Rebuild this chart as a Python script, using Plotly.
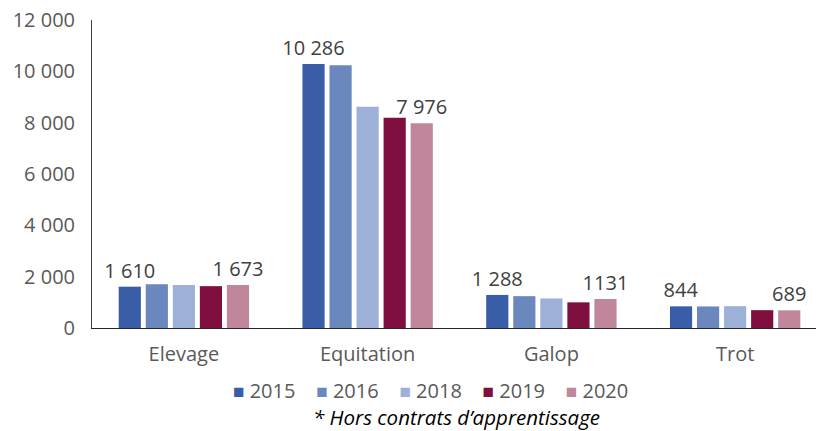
import plotly.graph_objects as go

# Effectifs par filière et par année (hors contrats d'apprentissage)
categories = ["Elevage", "Equitation", "Galop", "Trot"]
years = ["2015", "2016", "2018", "2019", "2020"]
values = {
    "2015": [1610, 10286, 1288, 844],
    "2016": [1700, 10240, 1240, 840],
    "2018": [1680, 8620, 1150, 850],
    "2019": [1630, 8190, 1000, 695],
    "2020": [1673, 7976, 1131, 689],
}
labels = {
    "2015": ["1 610", "10 286", "1 288", "844"],
    "2020": ["1 673", "7 976", "1131", "689"],
}
colors = {
    "2015": "#3a5da8",
    "2016": "#6a87be",
    "2018": "#9db0d7",
    "2019": "#7f0f3e",
    "2020": "#c0869c",
}

FONT = "Open Sans"
GREY = "#595959"

fig = go.Figure()
for y in years:
    fig.add_trace(go.Bar(
        name=y,
        x=categories,
        y=values[y],
        marker=dict(color=colors[y], line=dict(width=0)),
        text=labels.get(y),
        textposition="outside" if y in labels else "none",
        constraintext="none",
        textfont=dict(family=FONT, size=20, color="#404040"),
        cliponaxis=False,
        showlegend=False,
    ))

# compact legend line: coloured square + year for each series
legend_text = ("\u00a0" * 4).join(
    f'<span style="color:{colors[y]};font-size:19px">\u25a0</span>\u00a0{y}'
    for y in years
)

fig.update_layout(
    width=816,
    height=431,
    margin=dict(l=92, r=0, t=20, b=103),
    paper_bgcolor="white",
    plot_bgcolor="white",
    barmode="group",
    bargap=0.264,
    bargroupgap=0.18,
    separators=". ",
    font=dict(family=FONT, size=20, color=GREY),
    xaxis=dict(
        range=[-0.5, 3.44],
        showline=True,
        linecolor="#262626",
        linewidth=1,
        ticks="",
        showgrid=False,
        ticklabelstandoff=8,
        tickfont=dict(family=FONT, size=20, color=GREY),
    ),
    yaxis=dict(
        range=[0, 12000],
        tickvals=[0, 2000, 4000, 6000, 8000, 10000, 12000],
        tickformat=",d",
        showline=True,
        linecolor="#404040",
        linewidth=1,
        ticks="",
        showgrid=False,
        zeroline=False,
        ticklabelstandoff=12,
        tickfont=dict(family=FONT, size=20, color=GREY),
    ),
    annotations=[
        dict(
            text=legend_text,
            xref="paper", yref="paper",
            x=0.467, y=-0.203,
            xanchor="center", yanchor="middle",
            showarrow=False,
            font=dict(family=FONT, size=20, color=GREY),
        ),
        dict(
            text="<i>* Hors contrats d\u2019apprentissage</i>",
            xref="paper", yref="paper",
            x=0.503, y=-0.289,
            xanchor="center", yanchor="middle",
            showarrow=False,
            font=dict(family=FONT, size=20.5, color="#000000"),
        ),
    ],
)

fig.write_html("out.html")
